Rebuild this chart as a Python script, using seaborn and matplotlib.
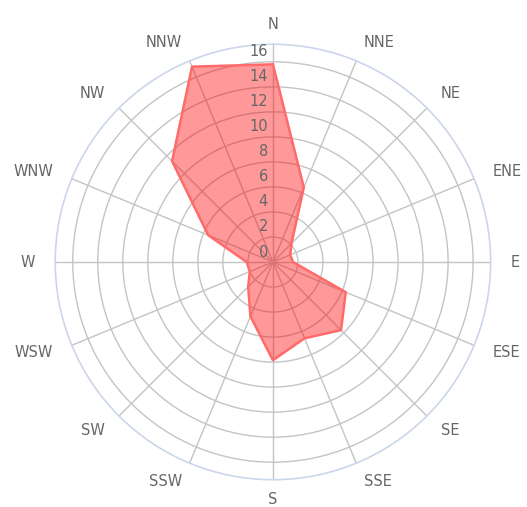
import numpy as np
import pandas as pd
import matplotlib
matplotlib.use("Agg")
import matplotlib.pyplot as plt
import seaborn as sns

directions = ["N", "NNE", "NE", "ENE", "E", "ESE", "SE", "SSE",
              "S", "SSW", "SW", "WSW", "W", "WNW", "NW", "NNW"]
values = [15.8, 6.45, 2.1, 1.5, 1.6, 6.3, 7.7, 6.6,
          7.85, 4.7, 2.8, 2.0, 2.1, 5.6, 11.4, 16.9]
ring_values = [0, 2, 4, 6, 8, 10, 12, 14, 16]
r_max = 17.4

sns.set_style("white")
plt.rcParams['font.family'] = ['DejaVu Sans']

fig = plt.figure(figsize=(5.27, 5.07), dpi=100)
ax = fig.add_axes([0.1048, 0.0538, 0.8262, 0.8588], projection="polar")
ax.set_theta_zero_location("N")
ax.set_theta_direction(-1)

n = len(directions)
angles = np.arange(n) * 2 * np.pi / n
df = pd.DataFrame({"theta": list(angles) + [angles[0]],
                   "r": values + [values[0]],
                   "order": range(n + 1)})

ax.fill(df["theta"], df["r"], color=(1, 0, 0, 0.4), zorder=3, lw=0)
sns.lineplot(data=df, x="theta", y="r", sort=False, ax=ax,
             color="#ff6a6a", lw=1.8, zorder=4, estimator=None)

ax.set_ylim(0, r_max)
ax.set_rgrids(ring_values[1:], labels=[""] * (len(ring_values) - 1))
ax.set_thetagrids(np.degrees(angles), labels=[""] * n)
ax.grid(True, color="#c4c4c4", lw=1.0)
ax.set_axisbelow(True)
for gl in ax.yaxis.get_gridlines() + ax.xaxis.get_gridlines():
    gl.set_zorder(1)
ax.spines["polar"].set_color("#ccd6eb")
ax.spines["polar"].set_linewidth(1.2)
ax.set_xlabel("")
ax.set_ylabel("")
ax.tick_params(length=0)

# radial labels
for v in ring_values:
    ax.annotate(str(v), xy=(0, v), xytext=(-5, 10), textcoords="offset pixels",
                ha="right", va="center", fontsize=10.5, color="#666666", zorder=5)

# direction labels
lab_r = r_max + 20 / 12.5
for a, d in zip(angles, directions):
    s = np.sin(a)
    if abs(s) < 1e-6:
        ha = "center"
    elif s > 0:
        ha = "left"
    else:
        ha = "right"
    ax.text(a, lab_r, d, ha=ha, va="center", fontsize=10.5, color="#666666",
            clip_on=False)

fig.savefig("out.png", dpi=100, facecolor="white")
